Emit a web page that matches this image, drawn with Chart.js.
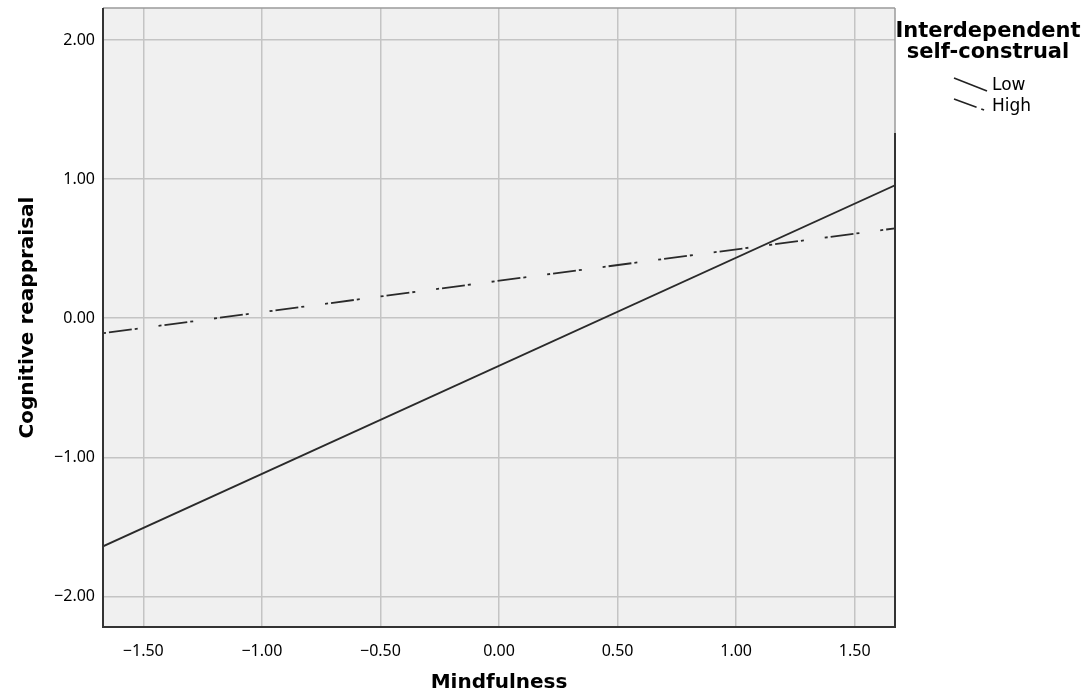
<!DOCTYPE html>
<html>
<head>
<meta charset="utf-8">
<script src="https://cdn.jsdelivr.net/npm/chart.js@4.4.0/dist/chart.umd.min.js"></script>
<style>
html,body{margin:0;padding:0;background:#fff;}
#wrap{width:1091px;height:695px;position:relative;}
</style>
</head>
<body>
<div id="wrap"><canvas id="c" width="1091" height="695"></canvas></div>
<script>
// Data
const seriesNames = ['Low', 'High'];
const xEnds = [-1.67, 1.67];
const lowValues = [-1.64, 0.955];
const highValues = [-0.108, 0.646];
const xTicks = [-1.5, -1.0, -0.5, 0.0, 0.5, 1.0, 1.5];
const yTicks = [-2, -1, 0, 1, 2];
const xRange = [-1.67, 1.67];
const yRange = [-2.22, 2.23];
const legendTitle = ['Interdependent', 'self-construal'];
const xTitle = 'Mindfulness';
const yTitle = 'Cognitive reappraisal';

const HIGH_DASH = [3, 3, 23, 3, 3, 21];
const fmt = v => (Math.abs(v) < 1e-9 ? '0.00' : v.toFixed(2).replace('-', '\u2212'));

const bgPlugin = {
  id: 'bg',
  beforeDraw(chart) {
    const {ctx, chartArea: a} = chart;
    ctx.save();
    ctx.fillStyle = '#f0f0f0';
    ctx.fillRect(a.left, a.top, a.right - a.left, a.bottom - a.top);
    ctx.restore();
  },
  afterDraw(chart) {
    const {ctx, chartArea: a} = chart;
    ctx.save();
    // frame
    ctx.lineWidth = 1.5;
    ctx.strokeStyle = '#9a9a9a';
    ctx.beginPath();
    ctx.moveTo(a.left, a.top); ctx.lineTo(a.right, a.top);
    ctx.moveTo(a.right, a.top); ctx.lineTo(a.right, a.top + 125);
    ctx.stroke();
    ctx.strokeStyle = '#333';
    ctx.lineWidth = 2;
    ctx.beginPath();
    ctx.moveTo(a.left, a.top); ctx.lineTo(a.left, a.bottom); ctx.lineTo(a.right, a.bottom); ctx.lineTo(a.right, a.top + 125);
    ctx.stroke();
    // legend
    ctx.fillStyle = '#000';
    ctx.font = 'bold 21px "DejaVu Sans"';
    ctx.textAlign = 'center';
    ctx.textBaseline = 'middle';
    ctx.fillText(legendTitle[0], 988, 32);
    ctx.fillText(legendTitle[1], 988, 53);
    ctx.strokeStyle = '#222';
    ctx.lineWidth = 1.6;
    ctx.beginPath();
    ctx.moveTo(954, 78); ctx.lineTo(987, 91);
    ctx.stroke();
    ctx.setLineDash([24, 5, 3, 30]);
    ctx.beginPath();
    ctx.moveTo(954, 99); ctx.lineTo(987, 111);
    ctx.stroke();
    ctx.setLineDash([]);
    ctx.font = '17px "DejaVu Sans"';
    ctx.textAlign = 'left';
    ctx.fillText(seriesNames[0], 992, 86);
    ctx.fillText(seriesNames[1], 992, 107);
    ctx.restore();
  }
};

new Chart(document.getElementById('c'), {
  type: 'scatter',
  data: {
    datasets: [
      {
        label: seriesNames[0],
        data: xEnds.map((x, i) => ({x, y: lowValues[i]})),
        showLine: true, borderColor: '#2a2a2a', borderWidth: 1.8,
        pointRadius: 0, fill: false
      },
      {
        label: seriesNames[1],
        data: xEnds.map((x, i) => ({x, y: highValues[i]})),
        showLine: true, borderColor: '#2a2a2a', borderWidth: 1.8,
        borderDash: HIGH_DASH, pointRadius: 0, fill: false
      }
    ]
  },
  options: {
    responsive: false,
    animation: false,
    devicePixelRatio: 1,
    layout: {autoPadding: false, padding: {top: 8, right: 196, left: 0, bottom: 0}},
    plugins: {legend: {display: false}, tooltip: {enabled: false}},
    scales: {
      x: {
        type: 'linear', min: xRange[0], max: xRange[1],
        afterBuildTicks: s => { s.ticks = xTicks.map(v => ({value: v})); },
        afterFit: s => { s.height = 68; s.paddingLeft = 0; s.paddingRight = 0; },
        grid: {color: '#c4c4c4', lineWidth: 1.5, drawTicks: false},
        border: {display: false},
        ticks: {color: '#000', font: {family: '"Noto Sans"', size: 16}, padding: 15, callback: v => fmt(v), maxRotation: 0},
        title: {display: true, text: xTitle, color: '#000', font: {family: '"DejaVu Sans"', size: 20, weight: 'bold'}, padding: {top: 12, bottom: 0}}
      },
      y: {
        type: 'linear', min: yRange[0], max: yRange[1],
        afterBuildTicks: s => { s.ticks = yTicks.map(v => ({value: v})); },
        afterFit: s => { s.width = 103; s.paddingTop = 0; s.paddingBottom = 0; },
        grid: {color: '#c4c4c4', lineWidth: 1.5, drawTicks: false},
        border: {display: false},
        ticks: {color: '#000', font: {family: '"Noto Sans"', size: 16}, padding: 8, callback: v => fmt(v)},
        title: {display: true, text: yTitle, color: '#000', font: {family: '"DejaVu Sans"', size: 20, weight: 'bold'}, padding: {top: 16, bottom: 0}}
      }
    }
  },
  plugins: [bgPlugin]
});
</script>
</body>
</html>
